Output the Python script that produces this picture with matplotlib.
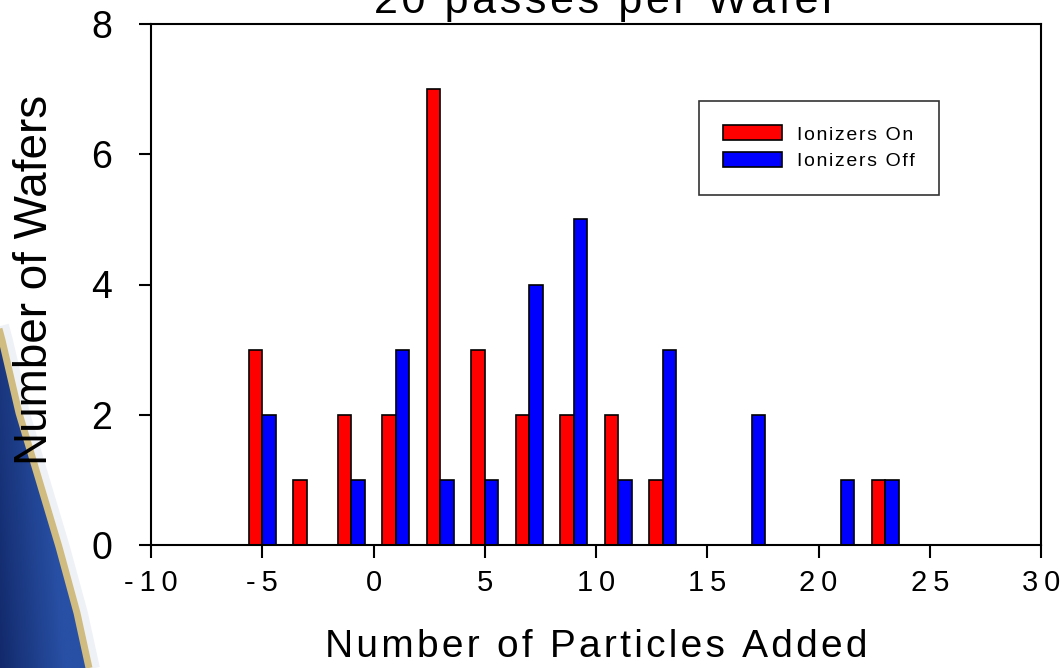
import numpy as np
import matplotlib
matplotlib.use('Agg')
import matplotlib.pyplot as plt
from matplotlib.patches import Polygon

plt.rcParams['font.family'] = ['Liberation Sans', 'DejaVu Sans']

# histogram bins (centre of each 2-particle bin)
bin_centres = [-5, -3, -1, 1, 3, 5, 7, 9, 11, 13, 15, 17, 19, 21, 23]
wafers_on = [3, 1, 2, 2, 7, 3, 2, 2, 2, 1, 0, 0, 0, 0, 1]
wafers_off = [2, 0, 1, 3, 1, 1, 4, 5, 1, 3, 0, 2, 0, 1, 1]

x_ticks = [-10, -5, 0, 5, 10, 15, 20, 25, 30]
y_ticks = [0, 2, 4, 6, 8]

title = '20 passes per Wafer'
xlabel = 'Number of Particles Added'
ylabel = 'Number of Wafers'
labels = ['Ionizers On', 'Ionizers Off']


def spaced(s, gap='\u200a'):
    # loose letter spacing like the old slide font
    return gap.join(s)


W, H = 1062, 668
fig = plt.figure(figsize=(W / 100, H / 100), dpi=100)
fig.patch.set_facecolor('white')

# slide background swoosh in the lower left corner
bg = fig.add_axes([0, 0, 1, 1], zorder=-5)
bg.axis('off')
edge_y = np.array([325, 340, 413, 480, 547, 613, 668])
edge_x = np.array([-4, 0, 17, 37, 57, 75, 87])
poly = Polygon(np.column_stack([np.r_[edge_x, -20], np.r_[edge_y, H]]),
               closed=True, transform=bg.transData, facecolor='none')
bg.add_patch(poly)
gx = np.linspace(0, 1, 64)
gy = np.linspace(0, 1, 64)
GX, GY = np.meshgrid(gx, gy)
t = np.clip(1.4 * GX + 0.3 * (1 - GY), 0, 1)
dark = np.array([12, 30, 90]) / 255
light = np.array([40, 80, 165]) / 255
img = dark[None, None, :] * (1 - t[..., None]) + light[None, None, :] * t[..., None]
im = bg.imshow(img, extent=[-20, 100, H, 320], aspect='auto', interpolation='bilinear')
im.set_clip_path(poly)
bg.plot(edge_x + 8, edge_y, color='#e4e8ef', lw=7, alpha=0.6, solid_capstyle='butt')
bg.plot(edge_x + 2, edge_y, color='#d0bb80', lw=5, solid_capstyle='butt')
bg.set_xlim(0, W)
bg.set_ylim(H, 0)

ax = fig.add_axes([151 / W, 1 - 545 / H, 890 / W, 521 / H])
ax.patch.set_alpha(0)

bw = 0.6
c = np.array(bin_centres, dtype=float)
on = np.array(wafers_on)
off = np.array(wafers_off)
m_on = on > 0
m_off = off > 0
ax.bar(c[m_on] - bw / 2, on[m_on], width=bw, color='#ff0000',
       edgecolor='black', linewidth=1.2, label=spaced(labels[0]))
ax.bar(c[m_off] + bw / 2, off[m_off], width=bw, color='#0000ff',
       edgecolor='black', linewidth=1.2, label=spaced(labels[1]))

ax.set_xlim(-10, 30)
ax.set_ylim(0, 8)
ax.set_xticks(x_ticks)
ax.set_xticklabels([spaced(str(v), '\u2009') for v in x_ticks], fontsize=21)
ax.set_yticks(y_ticks)
ax.set_yticklabels([str(v) for v in y_ticks], fontsize=27)
ax.tick_params(axis='both', direction='out', length=9, width=1.5, color='black')
ax.tick_params(axis='x', pad=8)
ax.tick_params(axis='y', pad=19)
for s in ax.spines.values():
    s.set_linewidth(1.5)

ax.set_xlabel(spaced(xlabel), fontsize=28, labelpad=23)
fig.text(35 / W, 1 - 280 / H, ylabel, rotation=90, fontsize=33,
         ha='center', va='center')
fig.text(605 / W, 1 - 13 / H, spaced(title), fontsize=31, ha='center',
         va='baseline')

leg = ax.legend(loc='upper left', bbox_to_anchor=((699 - 151) / 890, (545 - 101) / 521),
                fontsize=14, frameon=True, fancybox=False, shadow=False,
                handlelength=3.0, handleheight=0.8, handletextpad=0.8,
                labelspacing=0.45, borderpad=1.25, borderaxespad=0)
leg.get_frame().set_edgecolor('black')
leg.get_frame().set_linewidth(1.2)

fig.savefig('out.png', dpi=100, facecolor='white')
